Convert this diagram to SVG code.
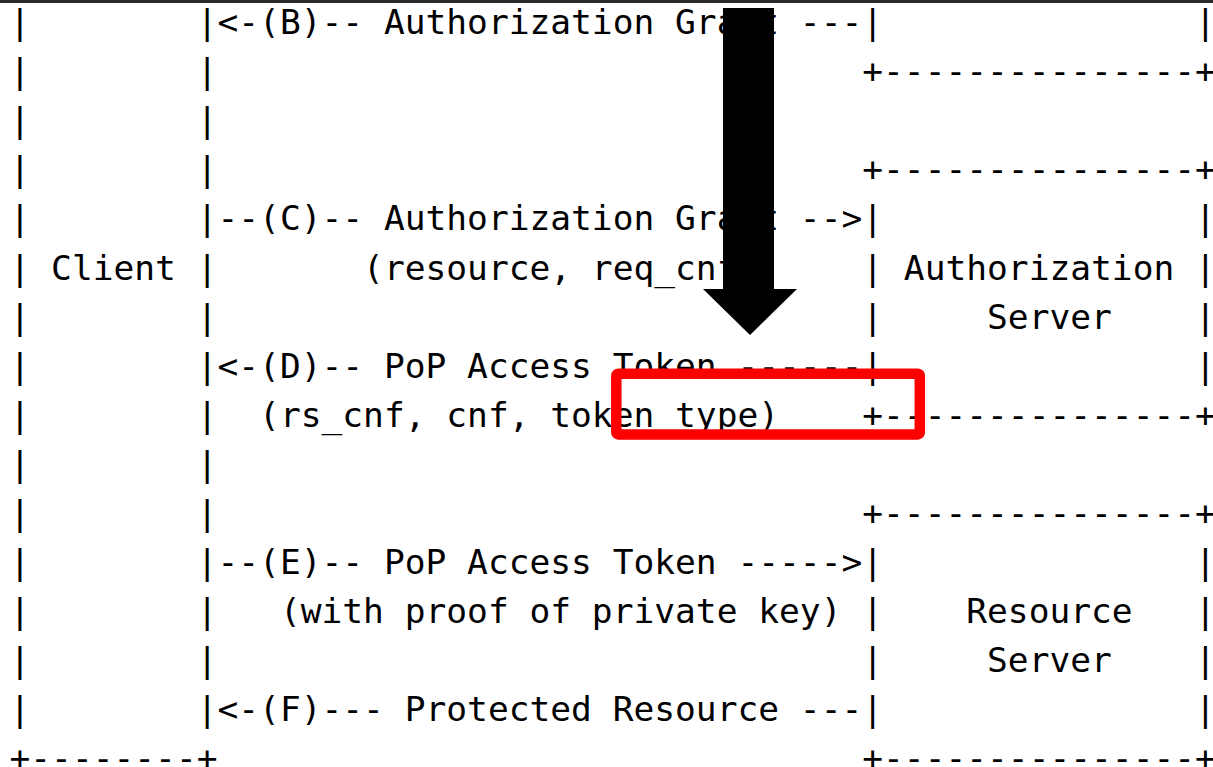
<svg xmlns="http://www.w3.org/2000/svg" width="1213" height="767" viewBox="0 0 1213 767">
  <style>
    .ascii { font-family: "DejaVu Sans Mono", "Liberation Mono", monospace; font-size: 34.55px; fill: #000; }
    .hl { fill: none; stroke: #ff0000; stroke-width: 10.5; stroke-linejoin: round; }
  </style>
  <rect x="0" y="0" width="1213" height="767" fill="#ffffff"/>
  <rect x="0" y="0" width="1213" height="3" fill="#2b2b2b"/>
  <g id="ascii-diagram" class="ascii">
    <text x="9.5" y="34">|&#160;&#160;&#160;&#160;&#160;&#160;&#160;&#160;|&lt;-(B)--&#160;Authorization&#160;Grant&#160;---|&#160;&#160;&#160;&#160;&#160;&#160;&#160;&#160;&#160;&#160;&#160;&#160;&#160;&#160;&#160;|</text>
    <text x="9.5" y="83.1">|&#160;&#160;&#160;&#160;&#160;&#160;&#160;&#160;|&#160;&#160;&#160;&#160;&#160;&#160;&#160;&#160;&#160;&#160;&#160;&#160;&#160;&#160;&#160;&#160;&#160;&#160;&#160;&#160;&#160;&#160;&#160;&#160;&#160;&#160;&#160;&#160;&#160;&#160;&#160;+---------------+</text>
    <text x="9.5" y="132.2">|&#160;&#160;&#160;&#160;&#160;&#160;&#160;&#160;|</text>
    <text x="9.5" y="181.3">|&#160;&#160;&#160;&#160;&#160;&#160;&#160;&#160;|&#160;&#160;&#160;&#160;&#160;&#160;&#160;&#160;&#160;&#160;&#160;&#160;&#160;&#160;&#160;&#160;&#160;&#160;&#160;&#160;&#160;&#160;&#160;&#160;&#160;&#160;&#160;&#160;&#160;&#160;&#160;+---------------+</text>
    <text x="9.5" y="230.4">|&#160;&#160;&#160;&#160;&#160;&#160;&#160;&#160;|--(C)--&#160;Authorization&#160;Grant&#160;--&gt;|&#160;&#160;&#160;&#160;&#160;&#160;&#160;&#160;&#160;&#160;&#160;&#160;&#160;&#160;&#160;|</text>
    <text x="9.5" y="279.5">|&#160;Client&#160;|&#160;&#160;&#160;&#160;&#160;&#160;&#160;(resource,&#160;req_cnf)&#160;&#160;&#160;&#160;&#160;|&#160;Authorization&#160;|</text>
    <text x="9.5" y="328.6">|&#160;&#160;&#160;&#160;&#160;&#160;&#160;&#160;|&#160;&#160;&#160;&#160;&#160;&#160;&#160;&#160;&#160;&#160;&#160;&#160;&#160;&#160;&#160;&#160;&#160;&#160;&#160;&#160;&#160;&#160;&#160;&#160;&#160;&#160;&#160;&#160;&#160;&#160;&#160;|&#160;&#160;&#160;&#160;&#160;Server&#160;&#160;&#160;&#160;|</text>
    <text x="9.5" y="377.7">|&#160;&#160;&#160;&#160;&#160;&#160;&#160;&#160;|&lt;-(D)--&#160;PoP&#160;Access&#160;Token&#160;------|&#160;&#160;&#160;&#160;&#160;&#160;&#160;&#160;&#160;&#160;&#160;&#160;&#160;&#160;&#160;|</text>
    <text x="9.5" y="426.8">|&#160;&#160;&#160;&#160;&#160;&#160;&#160;&#160;|&#160;&#160;(rs_cnf,&#160;cnf,&#160;token_type)&#160;&#160;&#160;&#160;+---------------+</text>
    <text x="9.5" y="475.9">|&#160;&#160;&#160;&#160;&#160;&#160;&#160;&#160;|</text>
    <text x="9.5" y="525">|&#160;&#160;&#160;&#160;&#160;&#160;&#160;&#160;|&#160;&#160;&#160;&#160;&#160;&#160;&#160;&#160;&#160;&#160;&#160;&#160;&#160;&#160;&#160;&#160;&#160;&#160;&#160;&#160;&#160;&#160;&#160;&#160;&#160;&#160;&#160;&#160;&#160;&#160;&#160;+---------------+</text>
    <text x="9.5" y="574.1">|&#160;&#160;&#160;&#160;&#160;&#160;&#160;&#160;|--(E)--&#160;PoP&#160;Access&#160;Token&#160;-----&gt;|&#160;&#160;&#160;&#160;&#160;&#160;&#160;&#160;&#160;&#160;&#160;&#160;&#160;&#160;&#160;|</text>
    <text x="9.5" y="623.2">|&#160;&#160;&#160;&#160;&#160;&#160;&#160;&#160;|&#160;&#160;&#160;(with&#160;proof&#160;of&#160;private&#160;key)&#160;|&#160;&#160;&#160;&#160;Resource&#160;&#160;&#160;|</text>
    <text x="9.5" y="672.3">|&#160;&#160;&#160;&#160;&#160;&#160;&#160;&#160;|&#160;&#160;&#160;&#160;&#160;&#160;&#160;&#160;&#160;&#160;&#160;&#160;&#160;&#160;&#160;&#160;&#160;&#160;&#160;&#160;&#160;&#160;&#160;&#160;&#160;&#160;&#160;&#160;&#160;&#160;&#160;|&#160;&#160;&#160;&#160;&#160;Server&#160;&#160;&#160;&#160;|</text>
    <text x="9.5" y="721.4">|&#160;&#160;&#160;&#160;&#160;&#160;&#160;&#160;|&lt;-(F)---&#160;Protected&#160;Resource&#160;---|&#160;&#160;&#160;&#160;&#160;&#160;&#160;&#160;&#160;&#160;&#160;&#160;&#160;&#160;&#160;|</text>
    <text x="9.5" y="769.5">+--------+&#160;&#160;&#160;&#160;&#160;&#160;&#160;&#160;&#160;&#160;&#160;&#160;&#160;&#160;&#160;&#160;&#160;&#160;&#160;&#160;&#160;&#160;&#160;&#160;&#160;&#160;&#160;&#160;&#160;&#160;&#160;+---------------+</text>
  </g>
  <g id="overlay-arrow">
    <polygon points="723,8 774,8 774,289 797,289 750,335 703,289 723,289" fill="#000"/>
  </g>
  <g id="highlight">
    <rect class="hl" x="616.3" y="373.7" width="303.5" height="60.7" rx="2"/>
  </g>
</svg>
